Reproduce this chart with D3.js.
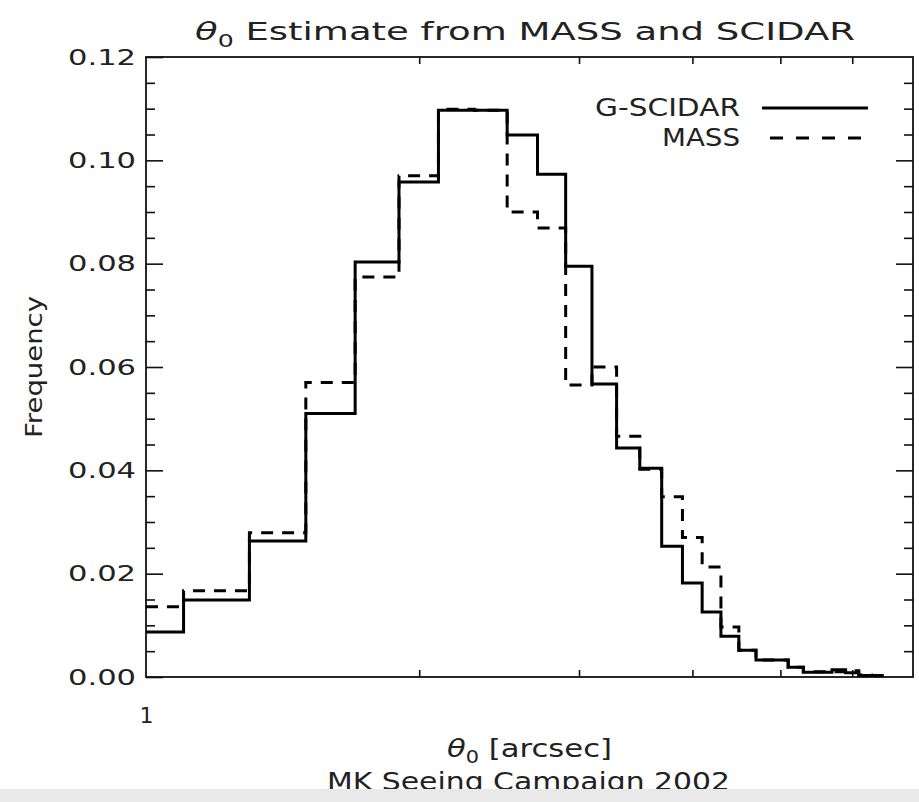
<!DOCTYPE html>
<html>
<head>
<meta charset="utf-8">
<title>theta0 histogram</title>
<script src="https://d3js.org/d3.v7.min.js"></script>
<style type="text/css">
body { margin: 0; background: #fff; }
text { font-family: "DejaVu Sans", "Liberation Sans", sans-serif; font-weight: normal; fill: #222; }
</style>
</head>
<body>
<div id="chart"></div>
<script>

// bin centres (arcsec), bins are 0.2 wide
var binCenters = [1.0, 1.2, 1.4, 1.6, 1.8, 2.0, 2.2, 2.4, 2.6, 2.8,
                  3.0, 3.2, 3.4, 3.6, 3.8, 4.0, 4.2, 4.4, 4.6, 4.8,
                  5.0, 5.2, 5.4, 5.6, 5.8, 6.0, 6.2, 6.4];
var binWidth = 0.2;

var scidar = [0.0087, 0.0149, 0.0263, 0.0510, 0.0803, 0.0958, 0.1097, 0.1097, 0.1049, 0.0973,
              0.0795, 0.0567, 0.0443, 0.0404, 0.0253, 0.0182, 0.0126, 0.0079, 0.0052, 0.0033,
              0.0033, 0.0019, 0.0009, 0.0009, 0.0014, 0.0008, 0.0003, 0.0003];

var mass = [0.0136, 0.0167, 0.0279, 0.0570, 0.0774, 0.0970, 0.1099, 0.1097, 0.0900, 0.0869,
            0.0565, 0.0600, 0.0466, 0.0402, 0.0349, 0.0270, 0.0213, 0.0097, 0.0052, 0.0033,
            0.0033, 0.0019, 0.0010, 0.0010, 0.0010, 0.0012, 0.0004, 0.0003];

var yMajor = [0, 0.02, 0.04, 0.06, 0.08, 0.10, 0.12];
var yMinor = [0.005, 0.01, 0.015, 0.025, 0.03, 0.035, 0.045, 0.05, 0.055, 0.065, 0.07, 0.075,
              0.085, 0.09, 0.095, 0.105, 0.11, 0.115];
var xMinor = [2, 3, 4, 5, 6];
var xLabels = [1];

var seriesNames = ["G-SCIDAR", "MASS"];

// plot box
var W = 919, H = 802;
var pL = 146, pR = 913, pT = 57, pB = 677;

var svg = d3.select("#chart").append("svg")
    .attr("width", W)
    .attr("height", H);

var x = d3.scaleLog().domain([1, 7]).range([pL, pR]);
var y = d3.scaleLinear().domain([0, 0.12]).range([pB, pT]);

svg.append("clipPath").attr("id", "plotclip")
  .append("rect")
    .attr("x", pL).attr("y", pT - 5)
    .attr("width", pR - pL).attr("height", pB - pT + 5);

// y axes, ticks pointing inward
svg.append("g")
    .attr("transform", "translate(" + pL + ",0)")
    .call(d3.axisLeft(y).tickValues(yMajor).tickSize(-17).tickPadding(10).tickFormat(d3.format(".2f")))
    .call(function(g){ g.select(".domain").remove(); });
svg.append("g")
    .attr("transform", "translate(" + pL + ",0)")
    .call(d3.axisLeft(y).tickValues(yMinor).tickSize(-9).tickFormat(""))
    .call(function(g){ g.select(".domain").remove(); });
svg.append("g")
    .attr("transform", "translate(" + pR + ",0)")
    .call(d3.axisRight(y).tickValues(yMajor.slice(1, -1)).tickSize(-17).tickFormat(""))
    .call(function(g){ g.select(".domain").remove(); });
svg.append("g")
    .attr("transform", "translate(" + pR + ",0)")
    .call(d3.axisRight(y).tickValues(yMinor).tickSize(-9).tickFormat(""))
    .call(function(g){ g.select(".domain").remove(); });

// x axes (log), minor ticks only
svg.append("g")
    .attr("transform", "translate(0," + pB + ")")
    .call(d3.axisBottom(x).tickValues(xMinor).tickSize(-7).tickFormat(""))
    .call(function(g){ g.select(".domain").remove(); });
svg.append("g")
    .attr("transform", "translate(0," + pT + ")")
    .call(d3.axisTop(x).tickValues(xMinor).tickSize(-7).tickFormat(""))
    .call(function(g){ g.select(".domain").remove(); });
svg.append("g")
    .attr("transform", "translate(0," + pB + ")")
    .call(d3.axisBottom(x).tickValues(xLabels).tickSize(0).tickPadding(30).tickFormat(d3.format("d")))
    .call(function(g){ g.select(".domain").remove(); });

svg.selectAll(".tick line").attr("stroke", "#111").attr("stroke-width", 1.6);
svg.selectAll(".tick text")
    .style("font-family", "\"DejaVu Sans\", sans-serif")
    .style("font-weight", "normal")
    .attr("font-size", 22)
    .attr("fill", "#222");
svg.selectAll(".tick text").filter(function(d){ return d !== 1; })
    .attr("textLength", 68).attr("lengthAdjust", "spacingAndGlyphs");

// frame
svg.append("rect")
    .attr("x", pL).attr("y", pT)
    .attr("width", pR - pL).attr("height", pB - pT)
    .attr("fill", "none").attr("stroke", "#111").attr("stroke-width", 1.8);

// histogram steps
function stepPoints(vals) {
  var pts = [];
  vals.forEach(function(v, i) {
    var lo = Math.max(1, binCenters[i] - binWidth / 2);
    var hi = binCenters[i] + binWidth / 2;
    pts.push([lo, v]);
    pts.push([hi, v]);
  });
  return pts;
}
var line = d3.line()
    .x(function(d) { return x(d[0]); })
    .y(function(d) { return y(d[1]); });

var plot = svg.append("g").attr("clip-path", "url(#plotclip)");
plot.append("path")
    .attr("d", line(stepPoints(mass)))
    .attr("fill", "none").attr("stroke", "#000").attr("stroke-width", 3)
    .attr("stroke-dasharray", "12,9");
plot.append("path")
    .attr("d", line(stepPoints(scidar)))
    .attr("fill", "none").attr("stroke", "#000").attr("stroke-width", 3);

// legend
var legend = svg.append("g");
legend.append("text").attr("x", 740).attr("y", 116).attr("text-anchor", "end")
    .attr("font-size", 24).attr("textLength", 145).attr("lengthAdjust", "spacingAndGlyphs")
    .text(seriesNames[0]);
legend.append("line").attr("x1", 762).attr("x2", 868).attr("y1", 108).attr("y2", 108)
    .attr("stroke", "#000").attr("stroke-width", 3);
legend.append("text").attr("x", 740).attr("y", 146).attr("text-anchor", "end")
    .attr("font-size", 24).attr("textLength", 78).attr("lengthAdjust", "spacingAndGlyphs")
    .text(seriesNames[1]);
legend.append("line").attr("x1", 770).attr("x2", 862).attr("y1", 138).attr("y2", 138)
    .attr("stroke", "#000").attr("stroke-width", 3).attr("stroke-dasharray", "13,13");

// title
var title = svg.append("text").attr("x", 195).attr("y", 40)
    .attr("font-size", 25).attr("textLength", 660).attr("lengthAdjust", "spacingAndGlyphs");
title.append("tspan").style("font-style", "italic").text("θ");
title.append("tspan").attr("dy", 7).attr("font-size", 17).text("0");
title.append("tspan").attr("dy", -7).text(" Estimate from MASS and SCIDAR");

// x title
var xt = svg.append("text").attr("x", 447).attr("y", 757)
    .attr("font-size", 25).attr("textLength", 165).attr("lengthAdjust", "spacingAndGlyphs");
xt.append("tspan").style("font-style", "italic").text("θ");
xt.append("tspan").attr("dy", 6).attr("font-size", 17).text("0");
xt.append("tspan").attr("dy", -6).text(" [arcsec]");

svg.append("text").attr("x", 327).attr("y", 790)
    .attr("font-size", 25).attr("textLength", 403).attr("lengthAdjust", "spacingAndGlyphs")
    .text("MK Seeing Campaign 2002");

// y title
svg.append("text")
    .attr("transform", "translate(42," + ((pT + pB) / 2) + ") rotate(-90)")
    .attr("text-anchor", "middle")
    .attr("font-size", 23).attr("textLength", 142).attr("lengthAdjust", "spacingAndGlyphs")
    .text("Frequency");

// grey strip at the bottom of the original screenshot
svg.append("rect").attr("x", 0).attr("y", 789).attr("width", W).attr("height", H - 789)
    .attr("fill", "#e9e9e9");

</script>
</body>
</html>
